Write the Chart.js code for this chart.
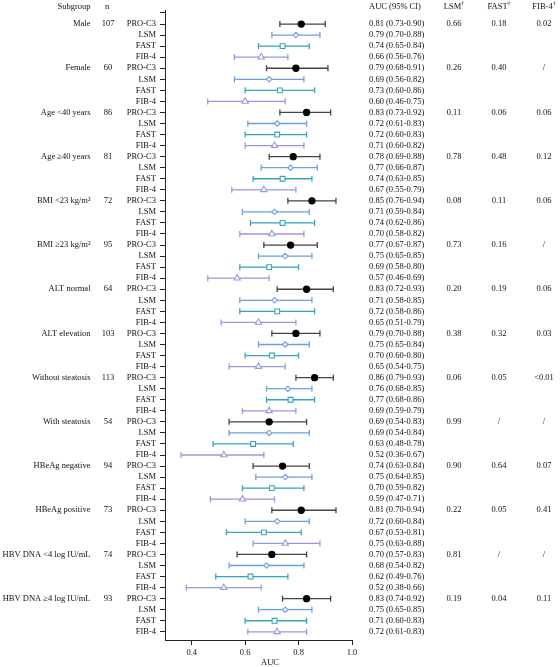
<!DOCTYPE html>
<html>
<head>
<meta charset="utf-8">
<script src="https://cdn.jsdelivr.net/npm/chart.js@4"></script>
<style>
  body { margin: 0; background: #fff; }
  canvas { display: block; }
</style>
</head>
<body>
<canvas id="forest" width="560" height="667"></canvas>
<script>
// サブグループと症例数
const subgroups = ["Male", "Female", "Age <40 years", "Age \u226540 years", "BMI <23 kg/m\u00b2", "BMI \u226523 kg/m\u00b2",
  "ALT normal", "ALT elevation", "Without steatosis", "With steatosis", "HBeAg negative", "HBeAg positive",
  "HBV DNA <4 log IU/mL", "HBV DNA \u22654 log IU/mL"];
const nValues = [107, 60, 86, 81, 72, 95, 64, 103, 113, 54, 94, 73, 74, 93];
const methods = ["PRO-C3", "LSM", "FAST", "FIB-4"];

// AUC と 95%CI（方法ごと）
const proc3Auc = [0.81, 0.79, 0.83, 0.78, 0.85, 0.77, 0.83, 0.79, 0.86, 0.69, 0.74, 0.81, 0.70, 0.83];
const proc3Lo  = [0.73, 0.68, 0.73, 0.69, 0.76, 0.67, 0.72, 0.70, 0.79, 0.54, 0.63, 0.70, 0.57, 0.74];
const proc3Hi  = [0.90, 0.91, 0.92, 0.88, 0.94, 0.87, 0.93, 0.88, 0.93, 0.83, 0.84, 0.94, 0.83, 0.92];
const lsmAuc = [0.79, 0.69, 0.72, 0.77, 0.71, 0.75, 0.71, 0.75, 0.76, 0.69, 0.75, 0.72, 0.68, 0.75];
const lsmLo  = [0.70, 0.56, 0.61, 0.66, 0.59, 0.65, 0.58, 0.65, 0.68, 0.54, 0.64, 0.60, 0.54, 0.65];
const lsmHi  = [0.88, 0.82, 0.83, 0.87, 0.84, 0.85, 0.85, 0.84, 0.85, 0.84, 0.85, 0.84, 0.82, 0.85];
const fastAuc = [0.74, 0.73, 0.72, 0.74, 0.74, 0.69, 0.72, 0.70, 0.77, 0.63, 0.70, 0.67, 0.62, 0.71];
const fastLo  = [0.65, 0.60, 0.60, 0.63, 0.62, 0.58, 0.58, 0.60, 0.68, 0.48, 0.59, 0.53, 0.49, 0.60];
const fastHi  = [0.84, 0.86, 0.83, 0.85, 0.86, 0.80, 0.86, 0.80, 0.86, 0.78, 0.82, 0.81, 0.76, 0.83];
const fib4Auc = [0.66, 0.60, 0.71, 0.67, 0.70, 0.57, 0.65, 0.65, 0.69, 0.52, 0.59, 0.75, 0.52, 0.72];
const fib4Lo  = [0.56, 0.46, 0.60, 0.55, 0.58, 0.46, 0.51, 0.54, 0.59, 0.36, 0.47, 0.63, 0.38, 0.61];
const fib4Hi  = [0.76, 0.75, 0.82, 0.79, 0.82, 0.69, 0.79, 0.75, 0.79, 0.67, 0.71, 0.88, 0.66, 0.83];

// PRO-C3 との比較 P 値
const pLsm  = ["0.66", "0.26", "0.11", "0.78", "0.08", "0.73", "0.20", "0.38", "0.06", "0.99", "0.90", "0.22", "0.81", "0.19"];
const pFast = ["0.18", "0.40", "0.06", "0.48", "0.11", "0.16", "0.19", "0.32", "0.05", "/", "0.64", "0.05", "/", "0.04"];
const pFib4 = ["0.02", "/", "0.06", "0.12", "0.06", "/", "0.06", "0.03", "<0.01", "/", "0.07", "0.41", "/", "0.11"];

const xTicks = [0.4, 0.6, 0.8, 1.0];

const aucList = [proc3Auc, lsmAuc, fastAuc, fib4Auc];
const loList = [proc3Lo, lsmLo, fastLo, fib4Lo];
const hiList = [proc3Hi, lsmHi, fastHi, fib4Hi];
const lineColors = ["#444444", "#6c9fe0", "#35a5b5", "#9898dc"];
const markColors = ["#000000", "#6c9fe0", "#35a5b5", "#9898dc"];
const markStyles = ["circle", "rectRot", "rect", "triangle"];
const markRadius = [3.1, 2.7, 3.4, 3.6];

const FONT = '"Liberation Serif", "Times New Roman", serif';
const TEXT = "#111";

// データセット作成（CIの線 + 点）
const datasets = [];
methods.forEach(function (m, k) {
  var ci = [];
  subgroups.forEach(function (s, g) {
    var row = g * 4 + k;
    ci.push({ x: loList[k][g], y: row });
    ci.push({ x: hiList[k][g], y: row });
    ci.push({ x: hiList[k][g], y: null });
  });
  datasets.push({
    label: m + " CI",
    data: ci,
    showLine: true,
    spanGaps: false,
    borderColor: lineColors[k],
    borderWidth: 1.3,
    pointStyle: "line",
    rotation: 90,
    pointRadius: 3,
    pointBorderColor: lineColors[k],
    pointBorderWidth: 1.3,
    order: 2,
  });
  datasets.push({
    label: m,
    data: subgroups.map(function (s, g) { return { x: aucList[k][g], y: g * 4 + k }; }),
    showLine: false,
    pointStyle: markStyles[k],
    pointRadius: markRadius[k],
    pointBackgroundColor: k === 0 ? "#000" : "#fff",
    pointBorderColor: markColors[k],
    pointBorderWidth: 1.1,
    order: 1,
  });
});

function drawSup(ctx, base, sup, cx, y) {
  ctx.font = "8.5px " + FONT;
  var w1 = ctx.measureText(base).width;
  ctx.font = "6px " + FONT;
  var w2 = ctx.measureText(sup).width;
  var x0 = cx - (w1 + w2) / 2;
  ctx.textAlign = "left";
  ctx.font = "8.5px " + FONT;
  ctx.fillText(base, x0, y);
  ctx.font = "6px " + FONT;
  ctx.fillText(sup, x0 + w1, y - 3);
}

// 表の文字を描く
const tablePlugin = {
  id: "tableText",
  afterDraw: function (chart) {
    var ctx = chart.ctx;
    var ys = chart.scales.y;
    ctx.save();
    ctx.fillStyle = TEXT;
    ctx.textBaseline = "middle";
    ctx.font = "8.5px " + FONT;

    var hy = ys.getPixelForValue(-1.6);
    ctx.textAlign = "right";
    ctx.fillText("Subgroup", 90.5, hy);
    ctx.textAlign = "center";
    ctx.fillText("n", 107, hy);
    ctx.textAlign = "left";
    ctx.fillText("AUC (95% CI)", 369, hy);
    drawSup(ctx, "LSM", "\u2020", 454, hy);
    drawSup(ctx, "FAST", "\u2020", 499, hy);
    drawSup(ctx, "FIB-4", "\u2020", 544, hy);

    ctx.font = "8.5px " + FONT;
    subgroups.forEach(function (s, g) {
      var y = ys.getPixelForValue(g * 4);
      ctx.textAlign = "right";
      ctx.fillText(s, 90.5, y);
      ctx.textAlign = "center";
      ctx.fillText(String(nValues[g]), 108, y);
      ctx.fillText(pLsm[g], 454, y);
      ctx.fillText(pFast[g], 499, y);
      ctx.fillText(pFib4[g], 544, y);
      for (var k = 0; k < 4; k++) {
        var yy = ys.getPixelForValue(g * 4 + k);
        ctx.textAlign = "left";
        ctx.fillText(aucList[k][g].toFixed(2) + " (" + loList[k][g].toFixed(2) + "-" + hiList[k][g].toFixed(2) + ")", 369, yy);
      }
    });

    ctx.textAlign = "center";
    ctx.fillText("AUC", 270, 663);
    ctx.restore();
  },
};

var ctx = document.getElementById("forest");
var forestChart = new Chart(ctx, {
  type: "scatter",
  data: { datasets: datasets },
  plugins: [tablePlugin],
  options: {
    responsive: false,
    devicePixelRatio: 1,
    animation: false,
    layout: { autoPadding: false, padding: { top: 10, right: 208, left: 0, bottom: 0 } },
    plugins: { legend: { display: false }, tooltip: { enabled: false } },
    scales: {
      x: {
        type: "linear",
        min: 0.3,
        max: 1.0,
        afterBuildTicks: function (scale) {
          scale.ticks = xTicks.map(function (v) { return { value: v }; });
        },
        afterFit: function (scale) { scale.height = 27; },
        ticks: {
          font: { family: FONT, size: 8.5 },
          color: TEXT,
          padding: 3,
          callback: function (v) { return Number(v).toFixed(1); },
        },
        grid: { drawOnChartArea: false, drawTicks: true, tickLength: 5, color: "#222", lineWidth: 1 },
        border: { display: true, color: "#222", width: 1 },
      },
      y: {
        type: "linear",
        reverse: true,
        min: -1.27,
        max: 55.74,
        afterBuildTicks: function (scale) {
          var t = [];
          for (var i = -1; i < subgroups.length * 4; i++) t.push({ value: i });
          scale.ticks = t;
        },
        afterFit: function (scale) { scale.width = 165; },
        ticks: {
          autoSkip: false,
          font: { family: FONT, size: 8.5 },
          color: TEXT,
          padding: 4,
          callback: function (v) { return v >= 0 ? methods[v % 4] : ""; },
        },
        grid: { drawOnChartArea: false, drawTicks: true, tickLength: 5, color: "#222", lineWidth: 1 },
        border: { display: true, color: "#222", width: 1 },
      },
    },
  },
});
</script>
</body>
</html>
